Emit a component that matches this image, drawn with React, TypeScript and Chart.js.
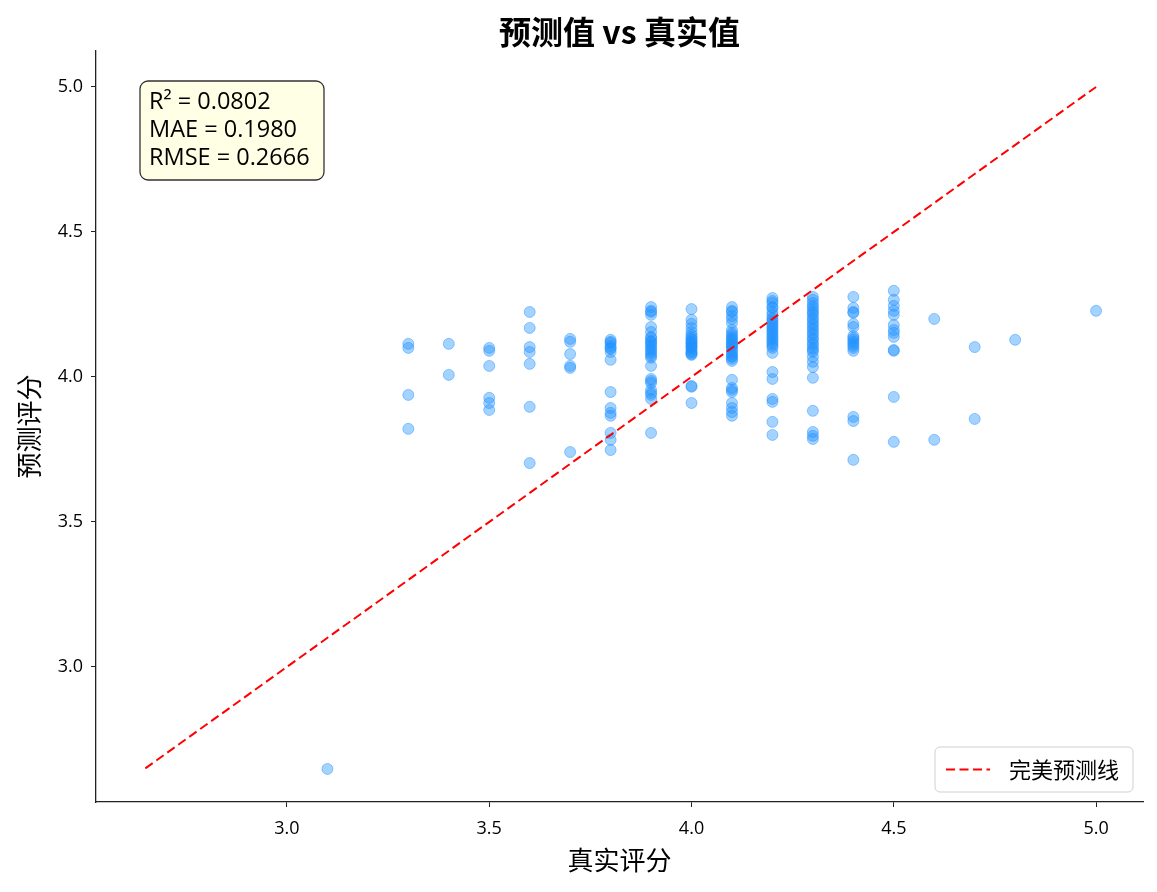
import React, { useEffect, useRef } from "react";
import { Chart, registerables } from "chart.js";

Chart.register(...registerables);

const FONT = '"Open Sans", "Noto Sans CJK SC", sans-serif';
const CJK = '"Noto Sans CJK SC", "Open Sans", sans-serif';

const trueScores = [3.1, 3.3, 3.4, 3.5, 3.6, 3.7, 3.8, 3.9, 4.0, 4.1, 4.2, 4.3, 4.4, 4.5, 4.6, 4.7, 4.8, 5.0];

const pred_3_1 = [2.648];
const pred_3_3 = [4.114, 4.1, 3.938, 3.821];
const pred_3_4 = [4.114, 4.007];
const pred_3_5 = [4.1, 4.09, 4.038, 3.928, 3.91, 3.886];
const pred_3_6 = [4.224, 4.169, 4.103, 4.086, 4.045, 3.897, 3.703];
const pred_3_7 = [4.131, 4.121, 4.079, 4.038, 4.031, 3.741];
const pred_3_8 = [4.128, 4.121, 4.117, 4.107, 4.1, 4.097, 4.086, 4.059, 3.948, 3.893, 3.876, 3.866, 3.807, 3.783, 3.748];
const pred_3_9 = [4.241, 4.228, 4.224, 4.214, 4.172, 4.155, 4.138, 4.134, 4.124, 4.121, 4.114, 4.107, 4.1, 4.093, 4.086, 4.079, 4.072, 4.066, 4.038, 3.993, 3.986, 3.979, 3.955, 3.945, 3.938, 3.924, 3.807];
const pred_4_0 = [4.234, 4.197, 4.183, 4.169, 4.155, 4.145, 4.138, 4.131, 4.128, 4.121, 4.117, 4.114, 4.107, 4.103, 4.1, 4.093, 4.086, 4.083, 4.079, 4.076, 3.969, 3.966, 3.91];
const pred_4_1 = [4.241, 4.228, 4.224, 4.21, 4.2, 4.186, 4.162, 4.152, 4.145, 4.138, 4.131, 4.128, 4.121, 4.114, 4.11, 4.107, 4.1, 4.093, 4.086, 4.079, 4.072, 4.069, 4.062, 4.055, 3.99, 3.962, 3.955, 3.948, 3.91, 3.893, 3.879, 3.866];
const pred_4_2 = [4.272, 4.262, 4.255, 4.241, 4.238, 4.224, 4.214, 4.203, 4.197, 4.19, 4.183, 4.176, 4.169, 4.162, 4.155, 4.148, 4.141, 4.134, 4.128, 4.121, 4.114, 4.107, 4.1, 4.083, 4.017, 3.993, 3.924, 3.914, 3.845, 3.8];
const pred_4_3 = [4.276, 4.266, 4.255, 4.245, 4.238, 4.228, 4.221, 4.214, 4.203, 4.197, 4.186, 4.179, 4.169, 4.162, 4.152, 4.145, 4.134, 4.128, 4.117, 4.11, 4.1, 4.093, 4.086, 4.069, 4.052, 4.034, 3.997, 3.883, 3.81, 3.797, 3.786];
const pred_4_4 = [4.276, 4.238, 4.224, 4.221, 4.183, 4.172, 4.141, 4.134, 4.128, 4.121, 4.114, 4.107, 4.1, 4.09, 3.862, 3.848, 3.714];
const pred_4_5 = [4.297, 4.266, 4.245, 4.228, 4.214, 4.179, 4.162, 4.152, 4.138, 4.093, 4.09, 3.931, 3.776];
const pred_4_6 = [4.2, 3.783];
const pred_4_7 = [4.103, 3.855];
const pred_4_8 = [4.128];
const pred_5_0 = [4.228];

const predictionsByScore = [
  pred_3_1, pred_3_3, pred_3_4, pred_3_5, pred_3_6, pred_3_7, pred_3_8, pred_3_9,
  pred_4_0, pred_4_1, pred_4_2, pred_4_3, pred_4_4, pred_4_5, pred_4_6, pred_4_7, pred_4_8, pred_5_0,
];

const perfectLineEnds = [2.65, 5.0];
const tickValues = [3.0, 3.5, 4.0, 4.5, 5.0];
const xRange = [2.528, 5.116];
const yRange = [2.534, 5.124];

const metricLines = ["R² = 0.0802", "MAE = 0.1980", "RMSE = 0.2666"];
const titleText = "预测值 vs 真实值";
const xTitle = "真实评分";
const yTitle = "预测评分";
const legendLabel = "完美预测线";

const overlayPlugin = {
  id: "overlay",
  afterDraw(chart: any) {
    const ctx = chart.ctx;
    const ca = chart.chartArea;
    ctx.save();
    // title
    ctx.fillStyle = "#000";
    ctx.font = `bold 32px ${CJK}`;
    ctx.textAlign = "center";
    ctx.textBaseline = "middle";
    ctx.fillText(titleText, (ca.left + ca.right) / 2, 32);

    // metrics box
    const bx = ca.left + 44, by = ca.top + 30, bw = 184, bh = 99, r = 8;
    ctx.beginPath();
    ctx.roundRect(bx, by, bw, bh, r);
    ctx.fillStyle = "rgba(255,255,224,0.85)";
    ctx.fill();
    ctx.lineWidth = 1.3;
    ctx.strokeStyle = "#333";
    ctx.stroke();
    ctx.fillStyle = "#000";
    ctx.font = `23.5px ${FONT}`;
    ctx.textBaseline = "middle";
    ctx.textAlign = "left";
    metricLines.forEach((t, i) => ctx.fillText(t, bx + 9, by + 21 + i * 28));

    // legend
    const lw = 198, lh = 45;
    const lx = ca.right - 10 - lw, ly = ca.bottom - 10 - lh;
    ctx.beginPath();
    ctx.roundRect(lx, ly, lw, lh, 5);
    ctx.fillStyle = "rgba(255,255,255,0.8)";
    ctx.fill();
    ctx.strokeStyle = "#d0d0d0";
    ctx.lineWidth = 1;
    ctx.stroke();
    ctx.beginPath();
    ctx.setLineDash([9, 4.5]);
    ctx.strokeStyle = "red";
    ctx.lineWidth = 2;
    ctx.moveTo(lx + 11, ly + lh / 2);
    ctx.lineTo(lx + 55, ly + lh / 2);
    ctx.stroke();
    ctx.setLineDash([]);
    ctx.fillStyle = "#000";
    ctx.font = `22px ${CJK}`;
    ctx.fillText(legendLabel, lx + 74, ly + lh / 2);
    ctx.restore();
  },
};

export default function App() {
  const ref = useRef<HTMLCanvasElement | null>(null);
  useEffect(() => {
    if (!ref.current) return;
    const points: { x: number; y: number }[] = [];
    trueScores.forEach((s, i) => predictionsByScore[i].forEach((p) => points.push({ x: s, y: p })));
    const chart = new Chart(ref.current, {
      type: "scatter",
      data: {
        datasets: [
          {
            type: "scatter",
            label: "预测",
            data: points,
            backgroundColor: "rgba(30,144,255,0.4)",
            borderColor: "rgba(30,144,255,0.45)",
            borderWidth: 1,
            pointRadius: 5.5,
            order: 2,
          },
          {
            type: "line",
            label: legendLabel,
            data: [
              { x: perfectLineEnds[0], y: perfectLineEnds[0] },
              { x: perfectLineEnds[1], y: perfectLineEnds[1] },
            ],
            borderColor: "red",
            borderWidth: 2,
            borderDash: [9, 4.5],
            pointRadius: 0,
            fill: false,
            order: 1,
          } as any,
        ],
      },
      options: {
        responsive: false,
        animation: false,
        layout: { padding: { left: 0, right: 14, top: 51, bottom: 0 } },
        plugins: {
          legend: { display: false },
          tooltip: { enabled: false },
          title: { display: false },
        },
        scales: {
          x: {
            type: "linear",
            min: xRange[0],
            max: xRange[1],
            afterBuildTicks: (s: any) => { s.ticks = tickValues.map((v) => ({ value: v })); },
            afterFit: (s: any) => { s.height = 90; },
            ticks: {
              color: "#000",
              font: { family: FONT, size: 18, lineHeight: 1.2 },
              padding: 11,
              callback: (v: any) => Number(v).toFixed(1),
            },
            grid: { drawOnChartArea: false, drawTicks: true, tickLength: 5, color: "#222" },
            border: { display: true, color: "#222", width: 1.3 },
            title: {
              display: true,
              text: xTitle,
              color: "#000",
              font: { family: CJK, size: 26, lineHeight: 1.2 },
              padding: { top: 4, bottom: 16 },
            },
          },
          y: {
            type: "linear",
            min: yRange[0],
            max: yRange[1],
            afterBuildTicks: (s: any) => { s.ticks = tickValues.map((v) => ({ value: v })); },
            afterFit: (s: any) => { s.width = 96; },
            ticks: {
              color: "#000",
              font: { family: FONT, size: 18 },
              padding: 8,
              callback: (v: any) => Number(v).toFixed(1),
            },
            grid: { drawOnChartArea: false, drawTicks: true, tickLength: 5, color: "#222" },
            border: { display: true, color: "#222", width: 1.3 },
            title: {
              display: true,
              text: yTitle,
              color: "#000",
              font: { family: CJK, size: 26, lineHeight: 1.2 },
              padding: { top: 14, bottom: 0 },
            },
          },
        },
      },
      plugins: [overlayPlugin],
    });
    return () => chart.destroy();
  }, []);
  return (
    <div style={{ position: "fixed", left: 0, top: 0, width: 1157, height: 892, background: "#fff" }}>
      <canvas ref={ref} width={1157} height={892} style={{ display: "block" }} />
    </div>
  );
}
